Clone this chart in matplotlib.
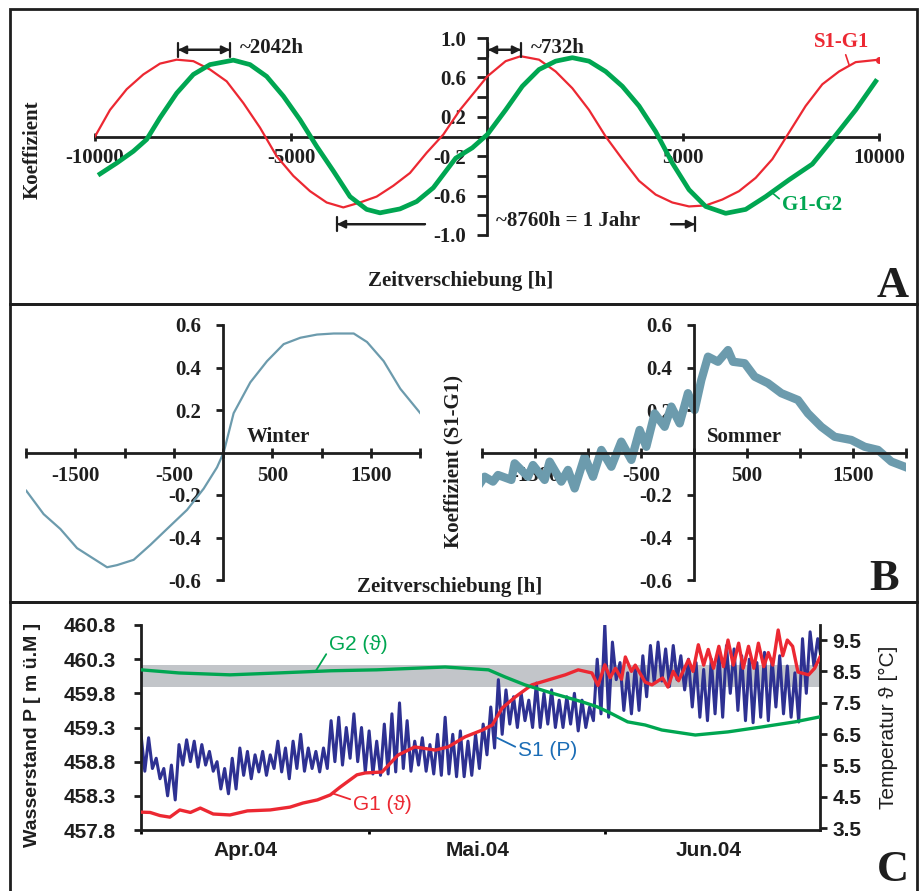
import numpy as np
import matplotlib
matplotlib.use('Agg')
import matplotlib.pyplot as plt
from matplotlib.patches import Rectangle

# --- panel A: cross-correlation over +-10000 h
s1g1_h = [-10000, -9617, -9192, -8767, -8342, -7916, -7491, -7066, -6641, -6216,
          -5791, -5366, -4940, -4515, -4090, -3665, -3240, -2815, -2390, -1964,
          -1539, -1114, -689, 8, 476, 859, 1327, 1752, 2177, 2602, 3027, 3452,
          3878, 4303, 4728, 5153, 5578, 6003, 6429, 6854, 7279, 7704, 8129, 8554,
          8980, 9405, 10000]
s1g1_r = [0.0, 0.27, 0.48, 0.63, 0.74, 0.78, 0.765, 0.68, 0.56, 0.34,
          0.09, -0.20, -0.40, -0.555, -0.67, -0.72, -0.67, -0.61, -0.50, -0.37,
          -0.165, 0.02, 0.27, 0.61, 0.765, 0.815, 0.78, 0.66, 0.49, 0.27, 0.0, -0.23,
          -0.45, -0.59, -0.67, -0.71, -0.70, -0.64, -0.555, -0.42, -0.23, 0.04, 0.31, 0.53,
          0.66, 0.755, 0.78]
g1g2_h = [-9872, -9447, -9022, -8682, -8342, -7916, -7491, -7066, -6471, -6046,
          -5621, -5196, -4770, -4345, -3920, -3495, -3070, -2730, -2219, -1794,
          -1369, -799, -375, 8, 476, 901, 1327, 1752, 2177, 2602, 3027, 3452,
          3878, 4303, 4728, 5153, 5578, 6088, 6599, 7109, 7704, 8299, 8810, 9405, 9916]
g1g2_r = [-0.38, -0.27, -0.15, -0.03, 0.19, 0.44, 0.63, 0.73, 0.775, 0.73,
          0.61, 0.41, 0.17, -0.10, -0.35, -0.61, -0.74, -0.775, -0.735, -0.66,
          -0.52, -0.22, -0.115, 0.02, 0.27, 0.51, 0.68, 0.765, 0.80, 0.765, 0.66, 0.51,
          0.31, 0.05, -0.27, -0.54, -0.71, -0.78, -0.74, -0.61, -0.44, -0.28, -0.03, 0.27, 0.56]

# --- panel B: winter / summer S1-G1
winter_h = [-1997, -1821, -1651, -1482, -1313, -1177, -1076, -907, -738, -569,
            -365, -196, -61, 7, 108, 277, 447, 616, 785, 954, 1124, 1327, 1462,
            1631, 1800, 2003]
winter_r = [-0.18, -0.29, -0.36, -0.45, -0.50, -0.54, -0.53, -0.505, -0.435, -0.36,
            -0.27, -0.17, -0.07, 0.0, 0.185, 0.33, 0.43, 0.51, 0.54, 0.555, 0.56, 0.56, 0.52,
            0.43, 0.30, 0.185]
sommer_h = [-2038, -1975, -1896, -1849, -1723, -1692, -1566, -1519, -1409, -1362,
            -1252, -1189, -1126, -1032, -953, -874, -780, -686, -591, -513, -450,
            -371, -277, -214, -135, -57, 6, 69, 132, 226, 321, 368, 478, 572, 698,
            824, 981, 1075, 1201, 1327, 1484, 1610, 1736, 1862, 1988]
sommer_r = [-0.16, -0.114, -0.137, -0.106, -0.129, -0.051, -0.114, -0.059, -0.129, -0.043,
            -0.137, -0.082, -0.169, -0.02, -0.114, 0.012, -0.067, 0.051, -0.035, 0.106, 0.027,
            0.184, 0.121, 0.216, 0.137, 0.279, 0.20, 0.341, 0.451, 0.427, 0.482, 0.427, 0.42,
            0.357, 0.326, 0.279, 0.247, 0.184, 0.121, 0.074, 0.059, 0.027, 0.012, -0.043, -0.067]

# --- panel C: time series Apr-Jun 2004 (day 0 = 1 April)
s1_high = [459.20, 459.15, 458.85, 458.70, 458.75, 459.05, 459.12, 459.10, 459.05, 458.95,
           458.80, 458.70, 458.85, 459.00, 458.95, 458.90, 458.95, 458.90, 459.10, 459.00,
           459.10, 459.20, 459.00, 458.95, 459.00, 459.40, 459.45, 459.30, 459.50, 459.30,
           459.25, 459.10, 459.35, 459.50, 459.66, 459.40, 459.10, 459.15, 459.05, 459.20,
           459.45, 459.20, 459.25, 459.10, 459.20, 459.35, 459.60, 460.00, 459.85, 459.75,
           459.80, 459.70, 459.95, 459.80, 459.85, 459.70, 459.75, 459.80, 459.70, 459.60,
           460.30, 460.81, 460.55, 460.25, 460.10, 460.20, 460.35, 460.50, 460.55, 460.45,
           460.50, 460.35, 460.30, 460.25, 460.15, 460.30, 460.40, 460.50, 460.45, 460.35,
           460.30, 460.25, 460.40, 460.30, 460.35, 460.20, 460.10, 460.60, 460.70, 460.60]
s1_low = [458.66, 458.70, 458.55, 458.30, 458.24, 458.75, 458.80, 458.72, 458.75, 458.66,
          458.40, 458.33, 458.40, 458.60, 458.55, 458.65, 458.60, 458.70, 458.65, 458.55,
          458.70, 458.66, 458.70, 458.65, 458.70, 458.80, 458.75, 458.85, 458.80, 458.65,
          458.62, 458.60, 458.62, 458.65, 458.70, 458.66, 458.75, 458.66, 458.62, 458.60,
          458.62, 458.58, 458.58, 458.60, 458.70, 458.90, 459.00, 459.20, 459.35, 459.30,
          459.40, 459.30, 459.30, 459.35, 459.30, 459.30, 459.35, 459.25, 459.30, 459.40,
          459.50, 459.45, 460.00, 459.55, 459.50, 459.55, 459.75, 459.95, 459.98, 459.90,
          460.00, 459.85, 459.60, 459.45, 459.40, 459.50, 459.45, 459.80, 459.55, 459.40,
          459.37, 459.45, 459.40, 459.60, 459.50, 459.45, 459.38, 459.80, 460.20, 460.30]
g1_day = [0, 1.2, 2.5, 3.8, 5.1, 6.5, 7.8, 9.5, 11.7, 14, 17, 19.6, 21.3, 23.2, 24.9,
          26.2, 28.4, 29.5, 31.7, 33.8, 36, 38.7, 40.4, 42.6, 44.9, 46.2, 47.5, 49.2,
          51.4, 53.6, 55.8, 57.5, 59.3, 60.1, 61, 61.7, 62.4, 63.2, 63.7, 64.5, 65, 66.3,
          67.2, 68.6, 69.3, 70.0, 70.7, 72, 72.6, 73.3, 74, 74.6, 75.3, 76, 76.6, 77.2,
          77.9, 78.6, 79.2, 79.9, 80.6, 81.2, 81.9, 82.5, 83.1, 83.8, 84.4, 85, 85.7,
          86.4, 87.8, 88.6, 89.3]
g1_temp = [4.01, 4.0, 3.9, 3.85, 4.08, 4.0, 4.14, 3.95, 3.92, 4.05, 4.08, 4.17, 4.3, 4.4, 4.56,
           4.81, 5.2, 5.26, 5.29, 5.83, 6.09, 5.99, 6.09, 6.41, 6.63, 6.79, 7.33, 7.68,
           8.07, 8.23, 8.39, 8.55, 8.45, 8.05, 8.71, 8.3, 8.6, 8.25, 8.96, 8.5, 8.7, 8.16,
           8.07, 8.29, 8.0, 8.5, 8.2, 8.87, 8.5, 9.35, 8.7, 9.2, 8.6, 9.3, 8.65, 9.5,
           8.7, 9.4, 8.6, 9.3, 8.6, 9.4, 8.65, 9.1, 8.7, 9.82, 9.0, 9.5, 9.3,
           8.48, 8.39, 8.6, 8.96]
g2_day = [0, 5, 11.7, 18, 25, 31, 40, 45.7, 47.9, 50.5, 54, 58, 60, 61.5, 64, 66.3,
          68.5, 72.9, 77.2, 81.7, 86, 89.3]
g2_temp = [8.55, 8.45, 8.39, 8.45, 8.52, 8.55, 8.64, 8.55, 8.32, 8.07, 7.81, 7.53, 7.37,
           7.2, 6.89, 6.79, 6.63, 6.47, 6.57, 6.73, 6.89, 7.05]
month_labels = ['Apr.04', 'Mai.04', 'Jun.04']

W, H = 919, 891
SERIF = ['Liberation Serif', 'DejaVu Serif']
SANS = ['Liberation Sans', 'DejaVu Sans']
RED = '#ec2832'
GREEN = '#00a651'
TEAL = '#6c9bad'
NAVY = '#2e3192'
INK = '#1e1e1e'

plt.rcParams['font.family'] = SERIF
plt.rcParams['font.weight'] = 'bold'
plt.rcParams['font.size'] = 15
plt.rcParams['axes.linewidth'] = 2
plt.rcParams['axes.edgecolor'] = INK

fig = plt.figure(figsize=(W / 100, H / 100), dpi=100)


def box(l, t, r, b):
    return [l / W, 1 - b / H, (r - l) / W, (b - t) / H]


def fp(x, y):
    return x / W, 1 - y / H


# frames round the three panels
for top, bot in [(9, 304), (304, 602), (602, 900)]:
    fig.add_artist(Rectangle(fp(10, bot), 907 / W, (bot - top) / H, transform=fig.transFigure,
                             fill=False, lw=2, ec=INK))


def center_axes(ax):
    ax.patch.set_visible(False)
    for s in ['top', 'right']:
        ax.spines[s].set_visible(False)
    ax.spines['left'].set_position(('data', 0))
    ax.spines['bottom'].set_position(('data', 0))


# ---------------- A
axA = fig.add_axes(box(95, 38, 879, 235))
axA.plot(s1g1_h, s1g1_r, color=RED, lw=1.6, zorder=3)
axA.plot(s1g1_h[-1:], s1g1_r[-1:], 'o', color=RED, ms=4, zorder=3)
axA.plot(g1g2_h, g1g2_r, color=GREEN, lw=3.4, zorder=3)
axA.set_xlim(-10000, 10000)
axA.set_ylim(-1, 1)
center_axes(axA)
axA.set_yticks([-1.0, -0.6, -0.2, 0.2, 0.6, 1.0])
axA.set_yticklabels(['-1.0', '-0.6', '-0.2', '0.2', '0.6', '1.0'])
axA.set_yticks([-0.8, -0.4, 0.0, 0.4, 0.8], minor=True)
axA.tick_params(axis='y', which='both', direction='out', length=7, width=2, pad=8, colors=INK)
axA.set_xticks([-10000, -5000, 0, 5000, 10000])
axA.set_xticklabels(['-10000', '-5000', '', '5000', '10000'])
axA.tick_params(axis='x', direction='inout', length=6, width=2, pad=5, colors=INK)

arr = dict(color=INK, lw=1.6, shrinkA=0, shrinkB=0, mutation_scale=12)
bar = dict(color=INK, lw=1.6, shrinkA=0, shrinkB=0, mutation_scale=10)
for x0, x1 in [(-7883, -6556), (25, 867)]:
    axA.annotate('', xy=(x1, 0.88), xytext=(x0, 0.88), arrowprops=dict(arrowstyle='<|-|>', **arr))
    axA.annotate('', xy=(x1, 0.88), xytext=(x0, 0.88),
                 arrowprops=dict(arrowstyle='|-|,widthA=0.5,widthB=0.5', **bar))
axA.text(-6301, 0.90, '~2042h', ha='left', va='center', color=INK)
axA.text(1122, 0.90, '~732h', ha='left', va='center', color=INK)
axA.annotate('', xy=(-3827, -0.89), xytext=(-1582, -0.89), arrowprops=dict(arrowstyle='-|>', **arr))
axA.annotate('', xy=(-1582, -0.89), xytext=(-3827, -0.89),
             arrowprops=dict(arrowstyle='|-|,widthA=0.5,widthB=0.0', **bar))
axA.annotate('', xy=(5306, -0.89), xytext=(4694, -0.89), arrowprops=dict(arrowstyle='-|>', **arr))
axA.annotate('', xy=(5306, -0.89), xytext=(4694, -0.89),
             arrowprops=dict(arrowstyle='|-|,widthA=0.0,widthB=0.5', **bar))
axA.text(230, -0.86, '~8760h = 1 Jahr', ha='left', va='center', color=INK)

axA.annotate('S1-G1', xy=(9235, 0.73), xytext=(842, H - 42), textcoords='figure pixels',
             ha='center', va='center', color=RED,
             arrowprops=dict(arrowstyle='-', color=RED, lw=1.2, relpos=(0.55, 0), shrinkA=0, shrinkB=0))
axA.annotate('G1-G2', xy=(7270, -0.57), xytext=(782, H - 205), textcoords='figure pixels',
             ha='left', va='center', color=GREEN,
             arrowprops=dict(arrowstyle='-', color=GREEN, lw=1.2, relpos=(0, 0.7), shrinkA=0, shrinkB=0))

fig.text(*fp(33, 150), 'Koeffizient', rotation=90, ha='center', va='center', color=INK)
fig.text(*fp(461, 281), 'Zeitverschiebung [h]', ha='center', va='center', color=INK)
fig.text(*fp(877, 297), 'A', ha='left', va='baseline', size=32, color=INK)


# ---------------- B
def season_axes(rect, h, r, lw, name, name_x):
    ax = fig.add_axes(box(*rect))
    ax.plot(h, r, color=TEAL, lw=lw)
    ax.set_xlim(-2000, 2000)
    ax.set_ylim(-0.6, 0.6)
    center_axes(ax)
    ax.set_yticks([-0.6, -0.4, -0.2, 0.2, 0.4, 0.6])
    ax.set_yticklabels(['-0.6', '-0.4', '-0.2', '0.2', '0.4', '0.6'])
    ax.tick_params(axis='y', direction='out', length=5, width=2, pad=11, colors=INK)
    ax.set_xticks([-2000, -1500, -1000, -500, 0, 500, 1000, 1500, 2000])
    ax.set_xticklabels(['', '-1500', '', '-500', '', '500', '', '1500', ''])
    ax.tick_params(axis='x', direction='inout', length=7, width=2, pad=6, colors=INK)
    fig.text(*fp(name_x, 437), name, ha='left', va='center', color=INK)
    return ax


season_axes((26, 325, 420, 580), winter_h, winter_r, 1.6, 'Winter', 247)
season_axes((482, 325, 906, 580), sommer_h, sommer_r, 6.0, 'Sommer', 707)
fig.text(*fp(453, 462), 'Koeffizient (S1-G1)', rotation=90, ha='center', va='center', color=INK)
fig.text(*fp(450, 587), 'Zeitverschiebung [h]', ha='center', va='center', color=INK)
fig.text(*fp(869, 590), 'B', ha='left', va='baseline', size=32, color=INK)

# ---------------- C
axC = fig.add_axes(box(141, 625, 820, 830))
days = np.arange(len(s1_high))
s1_day = np.column_stack([days, days + 0.5]).ravel()
s1_level = np.column_stack([s1_high, s1_low]).ravel()
axC.axhspan(459.89, 460.21, color='#c2c5c9', lw=0, zorder=1)
axC.plot(s1_day, s1_level, color=NAVY, lw=2.2, zorder=2)
axC.set_xlim(0, 89.3)
axC.set_ylim(457.8, 460.8)
axC.spines['top'].set_visible(False)
axC.spines['right'].set_visible(False)
axC.set_yticks(np.round(np.arange(457.8, 460.81, 0.5), 1))
axC.yaxis.set_major_formatter(matplotlib.ticker.FormatStrFormatter('%.1f'))
axC.tick_params(axis='y', direction='out', length=5, width=2, pad=13, labelfontfamily=SANS, colors=INK)
axC.set_xticks([0, 30, 61])
axC.set_xticklabels(['', '', ''])
axC.set_xticks([13.7, 44.2, 74.6], minor=True)
axC.set_xticklabels(month_labels, minor=True)
axC.tick_params(axis='x', which='major', direction='out', length=3, width=2)
axC.tick_params(axis='x', which='minor', length=0, pad=8, labelfontfamily=SANS, colors=INK)

axT = axC.twinx()
axT.plot(g1_day, g1_temp, color=RED, lw=2.4, zorder=3)
axT.plot(g2_day, g2_temp, color=GREEN, lw=2.4, zorder=3)
axT.set_ylim(3.44, 9.98)
for s in ['top', 'left', 'bottom']:
    axT.spines[s].set_visible(False)
axT.set_yticks([3.5, 4.5, 5.5, 6.5, 7.5, 8.5, 9.5])
axT.yaxis.set_major_formatter(matplotlib.ticker.FormatStrFormatter('%.1f'))
axT.tick_params(axis='y', direction='out', length=5, width=2, pad=4, labelfontfamily=SANS, colors=INK)

axT.annotate('G2 (ϑ)', xy=(22.9, 8.48), xytext=(329, H - 644), textcoords='figure pixels',
             ha='left', va='center', color=GREEN, family=SANS, weight='normal', size=15,
             arrowprops=dict(arrowstyle='-', color=GREEN, lw=1.3, relpos=(0, 0.2), shrinkA=0, shrinkB=0))
axT.annotate('G1 (ϑ)', xy=(25.3, 4.6), xytext=(353, H - 804), textcoords='figure pixels',
             ha='left', va='center', color=RED, family=SANS, weight='normal', size=15,
             arrowprops=dict(arrowstyle='-', color=RED, lw=1.3, relpos=(0, 0.7), shrinkA=0, shrinkB=0))
axC.annotate('S1 (P)', xy=(46.8, 459.15), xytext=(518, H - 750), textcoords='figure pixels',
             ha='left', va='center', color='#1b6db6', family=SANS, weight='normal', size=15,
             arrowprops=dict(arrowstyle='-', color='#1b6db6', lw=1.3, relpos=(0, 0.6), shrinkA=0, shrinkB=0))

fig.text(*fp(33, 735), 'Wasserstand P [ m ü.M ]', rotation=90, ha='center', va='center',
         family=SANS, size=14, color=INK)
fig.text(*fp(888, 727), 'Temperatur ϑ [°C]', rotation=90, ha='center', va='center',
         family=SANS, weight='normal', size=15, color=INK)
fig.text(*fp(877, 890), 'C', ha='left', va='bottom', size=32, color=INK)

fig.savefig('out.png', dpi=100)
